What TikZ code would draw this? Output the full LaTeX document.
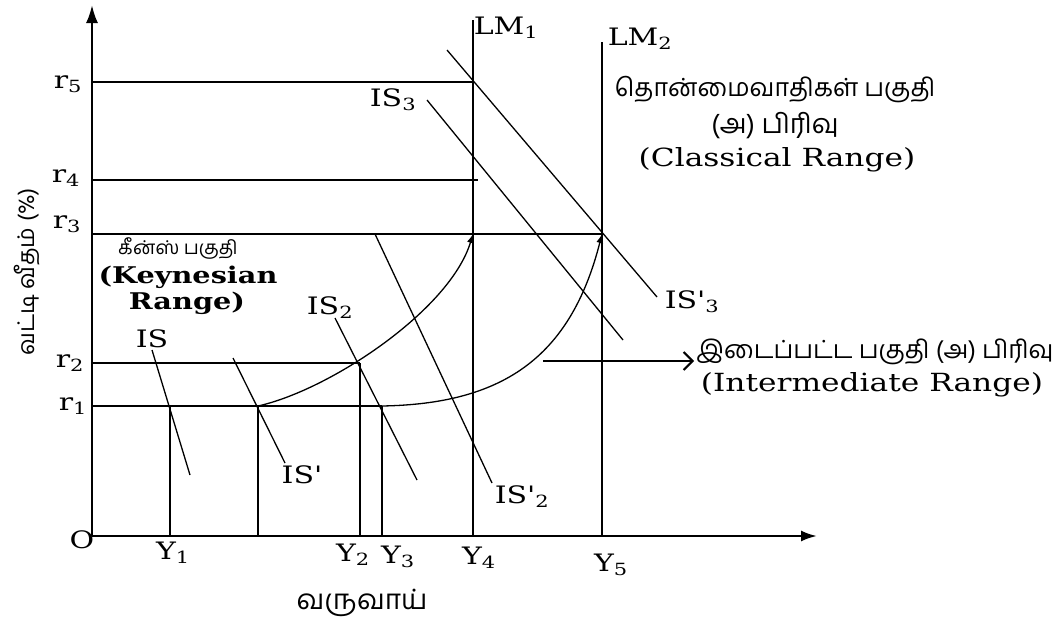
\documentclass[tikz,border=0pt]{standalone}
\usepackage{fontspec}
\setmainfont[FakeStretch=1.25]{DejaVu Serif}
\newfontfamily\nomap[FakeStretch=1.25]{DejaVu Serif}
\newfontfamily\tamil[Script=Tamil]{Hind Madurai}
\newcommand{\pr}{{\nomap\char39}}
\usetikzlibrary{arrows.meta}
\begin{document}
\begin{tikzpicture}[x=1pt,y=-1pt,
  thinln/.style={line width=1.3pt},
  axisln/.style={line width=2.4pt},
  lbl/.style={font=\fontsize{24}{28}\selectfont, inner sep=0pt},
  tlbl/.style={font=\tamil\fontsize{19}{23}\selectfont, inner sep=0pt},
  elbl/.style={font=\fontsize{25}{29}\selectfont, inner sep=0pt},
  bkey/.style={font=\bfseries\fontsize{23}{27}\selectfont, inner sep=0pt}]
\useasboundingbox (0,0) rectangle (1062,621);
% named points
\coordinate (O) at (92,536);
\coordinate (ytop) at (92,5);
\coordinate (xend) at (817,536);
\coordinate (r5a) at (92,82);   \coordinate (r5b) at (473,82);
\coordinate (r4a) at (92,180);  \coordinate (r4b) at (478,180);
\coordinate (r3a) at (92,234);  \coordinate (r3b) at (602,234);
\coordinate (r2a) at (92,363);  \coordinate (r2b) at (360,363);
\coordinate (r1a) at (92,406);  \coordinate (r1b) at (382,406);
\coordinate (E1) at (170,406);  \coordinate (B1) at (170,536);
\coordinate (Ea) at (258,406);  \coordinate (Ba) at (258,536);
\coordinate (E2) at (360,363);  \coordinate (B2) at (360,536);
\coordinate (E3) at (382,406);  \coordinate (B3) at (382,536);
\coordinate (LM1t) at (473,20); \coordinate (B4) at (473,536);
\coordinate (LM2t) at (602,42); \coordinate (B5) at (602,536);
\coordinate (E4) at (473,234);  \coordinate (E5) at (602,234);
\coordinate (is1a) at (152,350);  \coordinate (is1b) at (190,475);
\coordinate (isPa) at (233,358);  \coordinate (isPb) at (285,463);
\coordinate (is2a) at (335,318);  \coordinate (is2b) at (417,480);
\coordinate (is2Pa) at (375,234); \coordinate (is2Pb) at (492,483);
\coordinate (is3a) at (427,100);  \coordinate (is3b) at (623,340);
\coordinate (is3Pa) at (447,50);  \coordinate (is3Pb) at (657,297);
\coordinate (arA) at (543,361);   \coordinate (arB) at (694,361);
% axes
\draw[axisln,-{Latex[length=18pt,width=12pt]}] (O) -- (ytop);
\draw[axisln,-{Latex[length=16pt,width=11pt]}] (O) -- (xend);
% horizontal rate lines
\draw[thinln] (r5a) -- (r5b);
\draw[thinln] (r4a) -- (r4b);
\draw[thinln] (r3a) -- (r3b);
\draw[thinln] (r2a) -- (r2b);
\draw[thinln] (r1a) -- (r1b);
% vertical income lines
\draw[thinln] (E1) -- (B1);
\draw[thinln] (Ea) -- (Ba);
\draw[thinln] (E2) -- (B2);
\draw[thinln] (E3) -- (B3);
\draw[thinln] (LM1t) -- (B4);
\draw[thinln] (LM2t) -- (B5);
% IS curves
\draw[thinln] (is1a) -- (is1b);
\draw[thinln] (isPa) -- (isPb);
\draw[thinln] (is2a) -- (is2b);
\draw[thinln] (is2Pa) -- (is2Pb);
\draw[thinln] (is3a) -- (is3b);
\draw[thinln] (is3Pa) -- (is3Pb);
% LM curves
\draw[thinln,-{Latex[length=9pt,width=7pt]}] (Ea) .. controls (330,390) and (450,310) .. (E4);
\draw[thinln,-{Latex[length=9pt,width=7pt]}] (E3) .. controls (500,404) and (570,360) .. (E5);
% intermediate arrow
\draw[line width=2pt,-{Straight Barb[length=9pt,width=18pt,line width=2pt]}] (arA) -- (arB);
% axis labels
\node[lbl] (lr5) at (68,84) {r\textsubscript{5}};
\node[lbl] (lr4) at (66,178) {r\textsubscript{4}};
\node[lbl] (lr3) at (67,224) {r\textsubscript{3}};
\node[lbl] (lr2) at (70,363) {r\textsubscript{2}};
\node[lbl] (lr1) at (73,406) {r\textsubscript{1}};
\node[lbl] (lO) at (82,540) {O};
\node[lbl] (lY1) at (173,553) {Y\textsubscript{1}};
\node[lbl] (lY2) at (353,555) {Y\textsubscript{2}};
\node[lbl] (lY3) at (398,557) {Y\textsubscript{3}};
\node[lbl] (lY4) at (479,558) {Y\textsubscript{4}};
\node[lbl] (lY5) at (611,565) {Y\textsubscript{5}};
\node[lbl] (lLM1) at (506,28) {LM\textsubscript{1}};
\node[lbl] (lLM2) at (640,39) {LM\textsubscript{2}};
\node[lbl] (lIS) at (152,339) {IS};
\node[lbl] (lISP) at (302,475) {IS\pr};
\node[lbl] (lIS2) at (330,308) {IS\textsubscript{2}};
\node[lbl] (lIS2P) at (522,497) {IS\pr\textsubscript{2}};
\node[lbl] (lIS3) at (393,100) {IS\textsubscript{3}};
\node[lbl] (lIS3P) at (692,302) {IS\pr\textsubscript{3}};
% range texts
\node[tlbl,font=\tamil\fontsize{25}{29}\selectfont] (ct1) at (775,90) {தொன்மைவாதிகள் பகுதி};
\node[tlbl,font=\tamil\fontsize{27}{31}\selectfont] (ct2) at (775,126) {(அ) பிரிவு};
\node[elbl] (ce) at (777,160) {(Classical Range)};
\node[tlbl] (kt) at (178,248) {கீன்ஸ் பகுதி};
\node[bkey] (ke1) at (188,277) {(Keynesian};
\node[bkey] (ke2) at (187,303) {Range)};
\node[tlbl,font=\tamil\fontsize{25}{29}\selectfont] (it) at (875,352) {இடைப்பட்ட பகுதி (அ) பிரிவு};
\node[elbl] (ie) at (872,385) {(Intermediate Range)};
\node[tlbl,font=\tamil\fontsize{23}{27}\selectfont,rotate=90] (ylab) at (27,272) {வட்டி வீதம் (\%)};
\node[tlbl,font=\tamil\fontsize{28}{32}\selectfont] (xlab) at (362,603) {வருவாய்};
\end{tikzpicture}
\end{document}
